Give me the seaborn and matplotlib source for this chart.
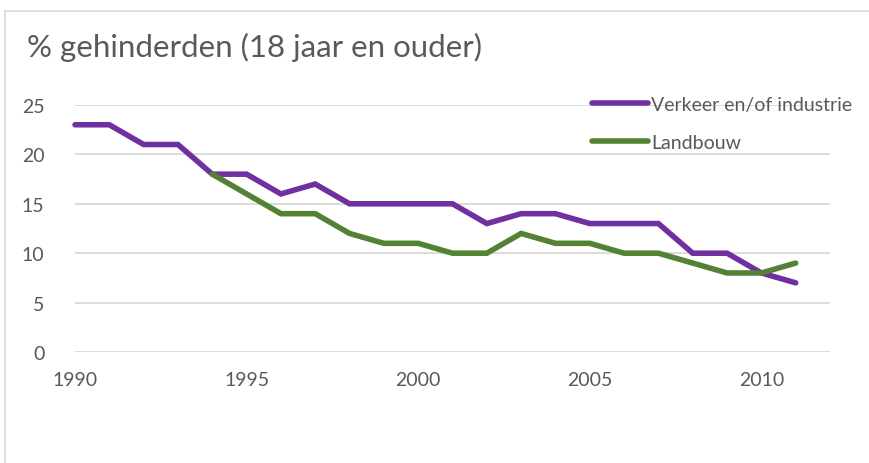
import pandas as pd
import matplotlib.pyplot as plt
import seaborn as sns
from matplotlib.patches import Rectangle

sns.set_theme(style="white")
plt.rcParams["font.family"] = ["Lato", "DejaVu Sans"]

years = list(range(1990, 2012))
verkeer = [23, 23, 21, 21, 18, 18, 16, 17, 15, 15, 15, 15, 13, 14, 14, 13, 13, 13, 10, 10, 8, 7]
landbouw = [None, None, None, None, 18, 16, 14, 14, 12, 11, 11, 10, 10, 12, 11, 11, 10, 10, 9, 8, 8, 9]
series_names = ["Verkeer en/of industrie", "Landbouw"]
colors = ["#7030A0", "#548235"]

df = pd.DataFrame({
    "Jaar": years * 2,
    "Waarde": verkeer + landbouw,
    "Reeks": [series_names[0]] * len(years) + [series_names[1]] * len(years),
}).dropna()

fig = plt.figure(figsize=(8.7, 4.64), dpi=100)
ax = fig.add_axes([75 / 870, 1 - 353 / 464, (830 - 75) / 870, (353 - 106) / 464])

sns.lineplot(data=df, x="Jaar", y="Waarde", hue="Reeks", palette=colors,
             linewidth=4, ax=ax, legend=True)
for line in ax.lines:
    line.set_clip_on(False)
    line.set_solid_capstyle("round")
    line.set_solid_joinstyle("miter")

ax.set_xlim(1990, 2012)
ax.set_ylim(0, 25)
ax.set_yticks([0, 5, 10, 15, 20, 25])
ax.set_xticks([1990, 1995, 2000, 2005, 2010])
ax.yaxis.grid(True, color="#D9D9D9", linewidth=1.3)
ax.xaxis.grid(False)
ax.set_axisbelow(True)
for s in ax.spines.values():
    s.set_visible(False)
ax.tick_params(axis="both", length=0, labelsize=14, colors="#595959")
ax.tick_params(axis="y", pad=22)
ax.tick_params(axis="x", pad=14)
ax.set_xlabel("")
ax.set_ylabel("")

leg = ax.legend(loc="upper left", bbox_to_anchor=(592 / 870, 1 - 97 / 464),
                bbox_transform=fig.transFigure, frameon=False, fontsize=14,
                handlelength=2.9, handletextpad=0.15, labelspacing=1.06,
                borderpad=0, borderaxespad=0)
for t in leg.get_texts():
    t.set_color("#595959")
for h in leg.get_lines():
    h.set_linewidth(4)
    h.set_solid_capstyle("round")

fig.text(27 / 870, 1 - 47 / 464, "% gehinderden (18 jaar en ouder)", fontsize=22.5,
         color="#595959", va="center", ha="left")

fig.patches.append(Rectangle((5 / 870, -0.1), 1.2, 1.1 - 12 / 464, transform=fig.transFigure,
                             fill=False, edgecolor="#D9D9D9", linewidth=1.2))

fig.savefig("out.png", dpi=100)
